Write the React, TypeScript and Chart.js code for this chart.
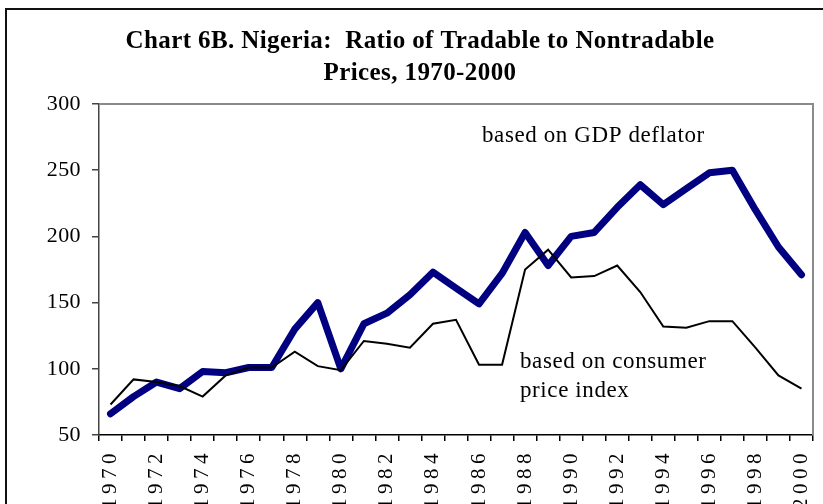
import React, { useEffect, useRef } from 'react';
import { Chart, registerables } from 'chart.js';

Chart.register(...registerables);

const years = [
  '1970', '1971', '1972', '1973', '1974', '1975', '1976', '1977', '1978', '1979',
  '1980', '1981', '1982', '1983', '1984', '1985', '1986', '1987', '1988', '1989',
  '1990', '1991', '1992', '1993', '1994', '1995', '1996', '1997', '1998', '1999', '2000',
];

const gdpDeflator = [
  66, 79, 90, 85, 98, 97, 101, 101, 130, 150,
  100, 134, 142, 156, 173, 161, 149, 172, 203, 178,
  200, 203, 222, 239, 224, 236, 248, 250, 220, 192, 171,
];

const consumerPriceIndex = [
  73, 92, 90, 87, 79, 95, 101, 101, 113, 102,
  99, 121, 119, 116, 134, 137, 103, 103, 175, 190,
  169, 170, 178, 158, 132, 131, 136, 136, 116, 95, 85,
];

const yMin = 50;
const yMax = 300;
const yStep = 50;

const titleLines = ['Chart 6B. Nigeria:  Ratio of Tradable to Nontradable', 'Prices, 1970-2000'];
const gdpLabelLines = ['based on GDP deflator'];
const cpiLabelLines = ['based on consumer', 'price index'];

const FONT = "'Liberation Serif', 'Times New Roman', serif";

const decorPlugin = {
  id: 'decor',
  beforeDraw(chart: any) {
    const ctx = chart.ctx;
    ctx.save();
    ctx.fillStyle = '#ffffff';
    ctx.fillRect(0, 0, chart.width, chart.height);
    ctx.fillStyle = '#111111';
    ctx.fillRect(5, 8, 2, chart.height);
    ctx.fillRect(5, 8, chart.width, 2);
    ctx.restore();
    ctx.letterSpacing = '0.4px';
  },
  beforeDatasetsDraw(chart: any) {
    const ctx = chart.ctx;
    const a = chart.chartArea;
    ctx.save();
    ctx.letterSpacing = '0px';
    ctx.strokeStyle = '#8a8a8a';
    ctx.lineWidth = 2;
    ctx.beginPath();
    ctx.moveTo(a.left, a.top);
    ctx.lineTo(a.right, a.top);
    ctx.lineTo(a.right, a.bottom);
    ctx.stroke();
    ctx.restore();
  },
  afterDatasetsDraw(chart: any) {
    chart.ctx.letterSpacing = '4.5px';
  },
  afterDraw(chart: any) {
    const ctx = chart.ctx;
    ctx.save();
    ctx.letterSpacing = '0.6px';
    ctx.font = `23px ${FONT}`;
    ctx.fillStyle = '#000000';
    ctx.textAlign = 'left';
    ctx.textBaseline = 'alphabetic';
    gdpLabelLines.forEach((t, i) => ctx.fillText(t, 482, 142 + i * 29));
    cpiLabelLines.forEach((t, i) => ctx.fillText(t, 520, 368 + i * 29));
    ctx.restore();
    ctx.letterSpacing = '0px';
  },
};

export default function App() {
  const canvasRef = useRef<HTMLCanvasElement | null>(null);

  useEffect(() => {
    const canvas = canvasRef.current;
    if (!canvas) return;
    const chart = new Chart(canvas, {
      type: 'line',
      data: {
        labels: years,
        datasets: [
          {
            label: 'based on GDP deflator',
            data: gdpDeflator,
            borderColor: '#000080',
            backgroundColor: '#000080',
            borderWidth: 7,
            borderCapStyle: 'round',
            borderJoinStyle: 'round',
            pointRadius: 0,
            tension: 0,
            order: 2,
          },
          {
            label: 'based on consumer price index',
            data: consumerPriceIndex,
            borderColor: '#000000',
            backgroundColor: '#000000',
            borderWidth: 2,
            borderJoinStyle: 'miter',
            pointRadius: 0,
            tension: 0,
            order: 1,
          },
        ],
      },
      options: {
        responsive: false,
        animation: false,
        events: [],
        layout: { padding: { left: 27, right: 10, top: 0, bottom: 0 } },
        plugins: {
          legend: { display: false },
          tooltip: { enabled: false },
          title: {
            display: true,
            text: titleLines,
            color: '#000000',
            font: { family: FONT, size: 25, weight: 'bold', lineHeight: '32px' },
            padding: { top: 26, bottom: 14 },
          },
        },
        scales: {
          x: {
            type: 'category',
            offset: true,
            grid: {
              offset: true,
              drawOnChartArea: false,
              drawTicks: true,
              tickLength: 6,
              color: '#000000',
              lineWidth: 1.5,
            },
            border: { display: true, color: '#000000', width: 1.5 },
            ticks: {
              autoSkip: false,
              minRotation: 90,
              maxRotation: 90,
              padding: 8,
              color: '#000000',
              z: 1,
              font: { family: FONT, size: 21 },
              callback: (_v: any, i: number) => (i % 2 === 0 ? years[i] : ''),
            },
            afterFit: (scale: any) => {
              scale.height = 69;
              scale.paddingLeft = 0;
              scale.paddingRight = 0;
            },
          },
          y: {
            type: 'linear',
            min: yMin,
            max: yMax,
            grid: {
              drawOnChartArea: false,
              drawTicks: true,
              tickLength: 7,
              color: '#444444',
              lineWidth: 1.5,
            },
            border: { display: true, color: '#444444', width: 1.5 },
            ticks: {
              stepSize: yStep,
              padding: 11,
              color: '#000000',
              font: { family: FONT, size: 22 },
            },
            afterFit: (scale: any) => {
              scale.width = 72;
            },
          },
        },
      },
      plugins: [decorPlugin],
    } as any);
    return () => chart.destroy();
  }, []);

  return (
    <div style={{ position: 'fixed', left: 0, top: 0, width: 823, height: 504, background: '#ffffff' }}>
      <canvas ref={canvasRef} width={823} height={504} style={{ display: 'block', width: 823, height: 504 }} />
    </div>
  );
}
